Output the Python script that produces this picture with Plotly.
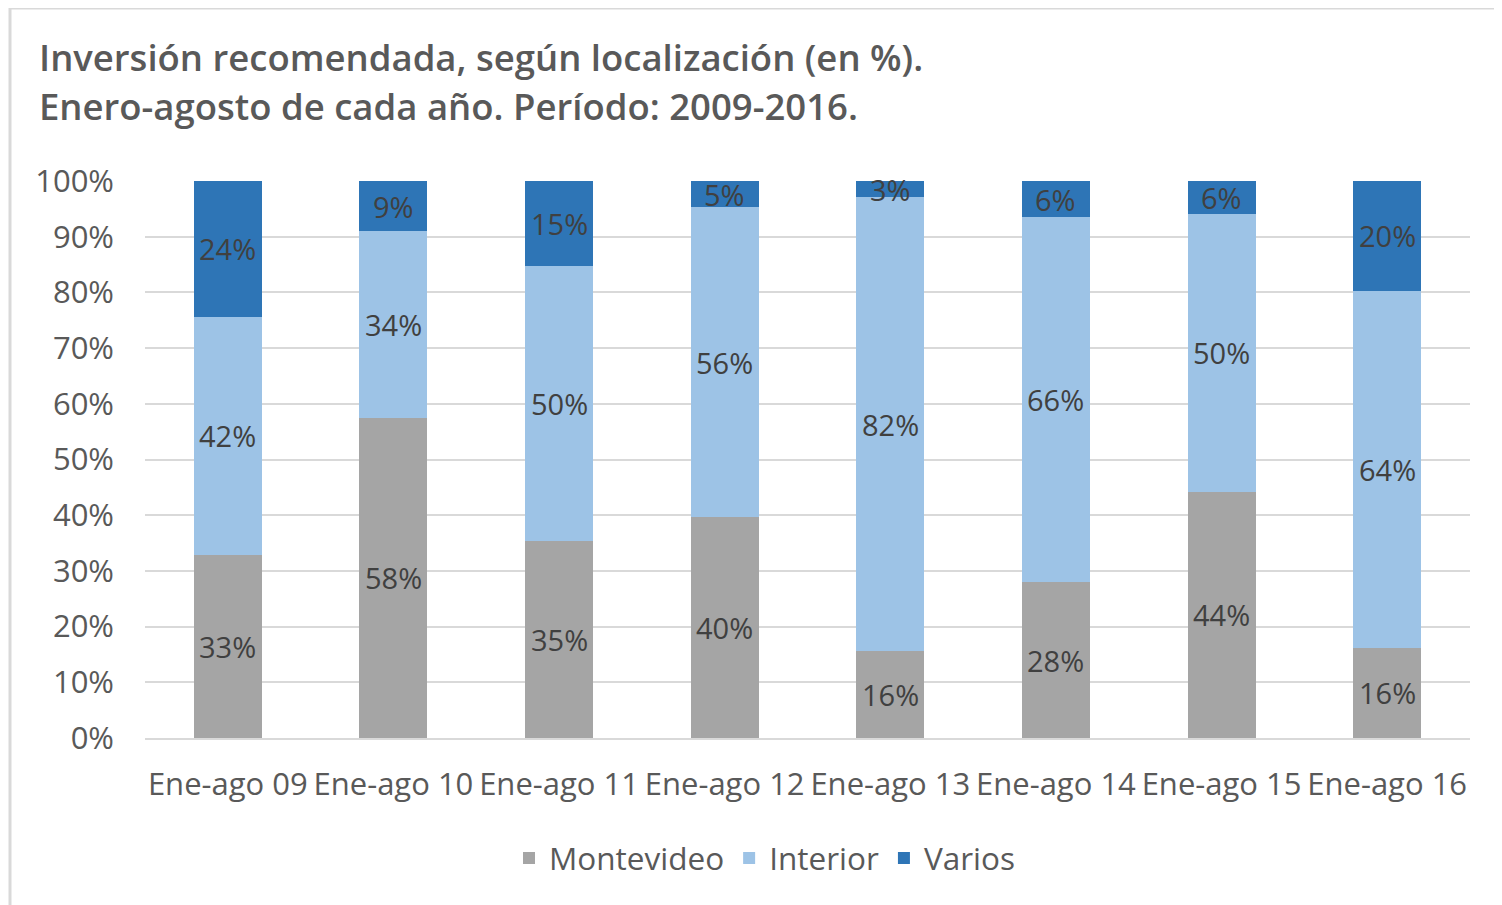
import plotly.graph_objects as go

categories = ["Ene-ago 09", "Ene-ago 10", "Ene-ago 11", "Ene-ago 12",
              "Ene-ago 13", "Ene-ago 14", "Ene-ago 15", "Ene-ago 16"]
montevideo = [32.9, 57.5, 35.4, 39.7, 15.6, 28.0, 44.2, 16.2]
interior = [42.7, 33.5, 49.4, 55.6, 81.5, 65.5, 49.9, 64.1]
varios = [24.4, 9.0, 15.2, 4.7, 2.9, 6.5, 5.9, 19.7]
montevideo_lbl = ["33%", "58%", "35%", "40%", "16%", "28%", "44%", "16%"]
interior_lbl = ["42%", "34%", "50%", "56%", "82%", "66%", "50%", "64%"]
varios_lbl = ["24%", "9%", "15%", "5%", "3%", "6%", "6%", "20%"]

series = [
    ("Montevideo", montevideo, montevideo_lbl, "#A5A5A5"),
    ("Interior", interior, interior_lbl, "#9DC3E6"),
    ("Varios", varios, varios_lbl, "#2E75B6"),
]

FONT = "Open Sans"
fig = go.Figure()
annotations = []
base = [0.0] * len(categories)
for name, vals, lbls, col in series:
    fig.add_trace(go.Bar(
        x=categories, y=vals, name=name, marker_color=col,
        marker_line_width=0,
    ))
    for i, (c, v, t) in enumerate(zip(categories, vals, lbls)):
        annotations.append(dict(
            x=c, y=base[i] + v / 2, xref="x", yref="y", text=t,
            showarrow=False, yanchor="middle", xanchor="center",
            font=dict(family=FONT, size=29, color="#404040")))
        base[i] += v

W, H = 1502, 905
# reference plot area (in picture px): left 145, right 1470, top 181, bottom 738
RL, RR, RT, RB = 145, 1470, 181, 738
pw, ph = RR - RL, RB - RT
OFF = 8  # page body margin
L, T = RL - OFF, RT - OFF
R = W - (RR - OFF)
B = H - T - ph


def px(x):
    return (x - RL) / pw


def py(y):
    return (RB - y) / ph


title_font = dict(family=FONT, size=36.5, color="#595959", weight=600)
annotations += [
    dict(xref="paper", yref="paper", x=px(37), xanchor="left", y=py(57),
         yanchor="middle", showarrow=False, align="left",
         text="Inversión recomendada, según localización (en %).", font=title_font),
    dict(xref="paper", yref="paper", x=px(37), xanchor="left", y=py(106),
         yanchor="middle", showarrow=False, align="left",
         text="Enero-agosto de cada año. Período: 2009-2016.", font=title_font),
]

fig.update_layout(
    width=W, height=H,
    barmode="stack", bargap=0.59,
    margin=dict(l=L, r=R, t=T, b=B),
    paper_bgcolor="white", plot_bgcolor="white",
    font=dict(family=FONT, color="#595959"),
    showlegend=True,
    legend=dict(orientation="h", x=px(765), xanchor="center",
                y=py(858), yanchor="middle",
                font=dict(family=FONT, size=31.5, color="#595959"),
                traceorder="normal", itemwidth=30),
    xaxis=dict(showgrid=False, showline=True, linecolor="#D9D9D9", linewidth=2,
               ticks="", tickfont=dict(family=FONT, size=31, color="#595959"),
               ticklabelstandoff=18),
    yaxis=dict(range=[0, 100], dtick=10, ticksuffix="%", showgrid=True,
               gridcolor="#D9D9D9", gridwidth=2, zeroline=False, showline=False,
               ticks="", tickfont=dict(family=FONT, size=31, color="#595959"),
               ticklabelstandoff=30),
    shapes=[dict(type="rect", xref="paper", yref="paper",
                 x0=px(10), x1=px(W + 30), y0=py(H + 30), y1=py(8),
                 line=dict(color="#D9D9D9", width=3), layer="below")],
    annotations=annotations,
)

fig.write_html("out.html")
